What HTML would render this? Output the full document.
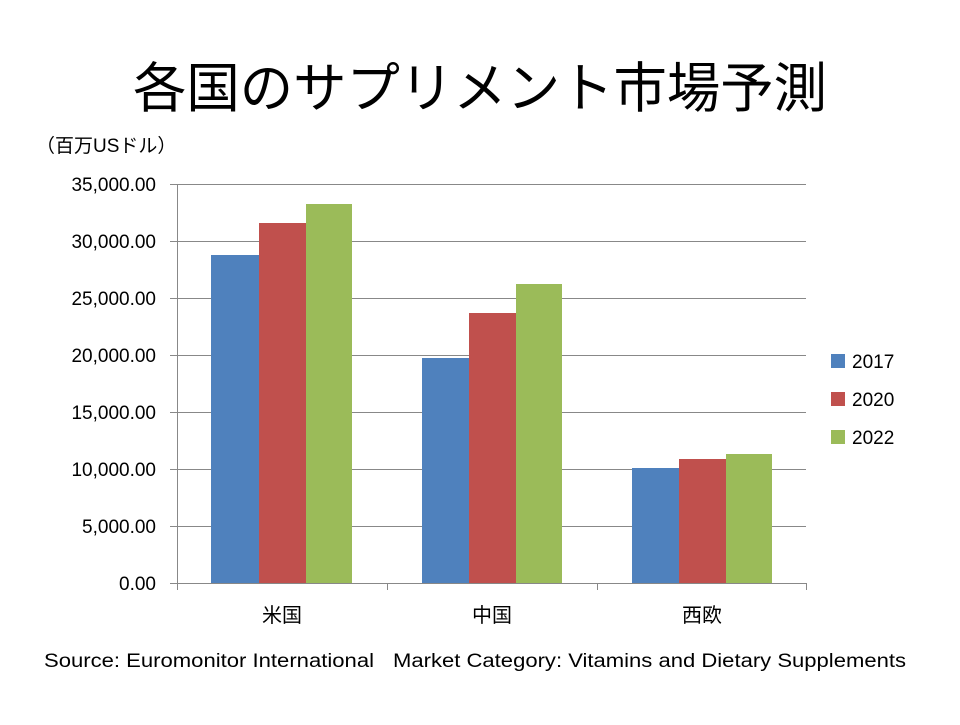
<!DOCTYPE html>
<html><head><meta charset="utf-8"><style>
html,body{margin:0;padding:0;background:#fff}
svg text{font-family:"Liberation Sans","Noto Sans CJK JP",sans-serif;fill:#000}
</style></head><body>
<svg width="960" height="720" xmlns="http://www.w3.org/2000/svg">
<rect width="960" height="720" fill="#fff"/>
<text x="480" y="107" font-size="54" text-anchor="middle" textLength="694" lengthAdjust="spacingAndGlyphs">各国のサプリメント市場予測</text>
<text x="36" y="152" font-size="19">（百万USドル）</text>
<g stroke="#888" stroke-width="1">
<line x1="170" y1="184.5" x2="806" y2="184.5"/>
<line x1="170" y1="241.5" x2="806" y2="241.5"/>
<line x1="170" y1="298.5" x2="806" y2="298.5"/>
<line x1="170" y1="355.5" x2="806" y2="355.5"/>
<line x1="170" y1="412.5" x2="806" y2="412.5"/>
<line x1="170" y1="469.5" x2="806" y2="469.5"/>
<line x1="170" y1="526.5" x2="806" y2="526.5"/>
<line x1="177.5" y1="184" x2="177.5" y2="590"/>
<line x1="387.5" y1="583" x2="387.5" y2="590"/>
<line x1="597.5" y1="583" x2="597.5" y2="590"/>
<line x1="806.5" y1="583" x2="806.5" y2="590"/>
</g>
<g>
<rect x="211" y="255" width="48" height="328" fill="#4f81bd"/>
<rect x="259" y="223" width="47" height="360" fill="#c0504d"/>
<rect x="306" y="204" width="46" height="379" fill="#9bbb59"/>
<rect x="422" y="358" width="47" height="225" fill="#4f81bd"/>
<rect x="469" y="313" width="47" height="270" fill="#c0504d"/>
<rect x="516" y="284" width="46" height="299" fill="#9bbb59"/>
<rect x="632" y="468" width="47" height="115" fill="#4f81bd"/>
<rect x="679" y="459" width="47" height="124" fill="#c0504d"/>
<rect x="726" y="454" width="46" height="129" fill="#9bbb59"/>
</g>
<line x1="170" y1="583.5" x2="806" y2="583.5" stroke="#888"/>
<g font-size="19" text-anchor="end">
<text x="156" y="191">35,000.00</text>
<text x="156" y="248">30,000.00</text>
<text x="156" y="305">25,000.00</text>
<text x="156" y="362">20,000.00</text>
<text x="156" y="419">15,000.00</text>
<text x="156" y="476">10,000.00</text>
<text x="156" y="533">5,000.00</text>
<text x="156" y="590">0.00</text>
</g>
<g font-size="20" text-anchor="middle">
<text x="282" y="622">米国</text>
<text x="492" y="622">中国</text>
<text x="702" y="622">西欧</text>
</g>
<rect x="831" y="354" width="14" height="14" fill="#4f81bd"/>
<rect x="831" y="392" width="14" height="14" fill="#c0504d"/>
<rect x="831" y="430" width="14" height="14" fill="#9bbb59"/>
<g font-size="19">
<text x="852" y="368">2017</text>
<text x="852" y="406">2020</text>
<text x="852" y="444">2022</text>
</g>
<text x="44" y="667" font-size="19" textLength="330" lengthAdjust="spacingAndGlyphs">Source: Euromonitor International</text>
<text x="393" y="667" font-size="19" textLength="513" lengthAdjust="spacingAndGlyphs">Market Category: Vitamins and Dietary Supplements</text>
</svg>
</body></html>
